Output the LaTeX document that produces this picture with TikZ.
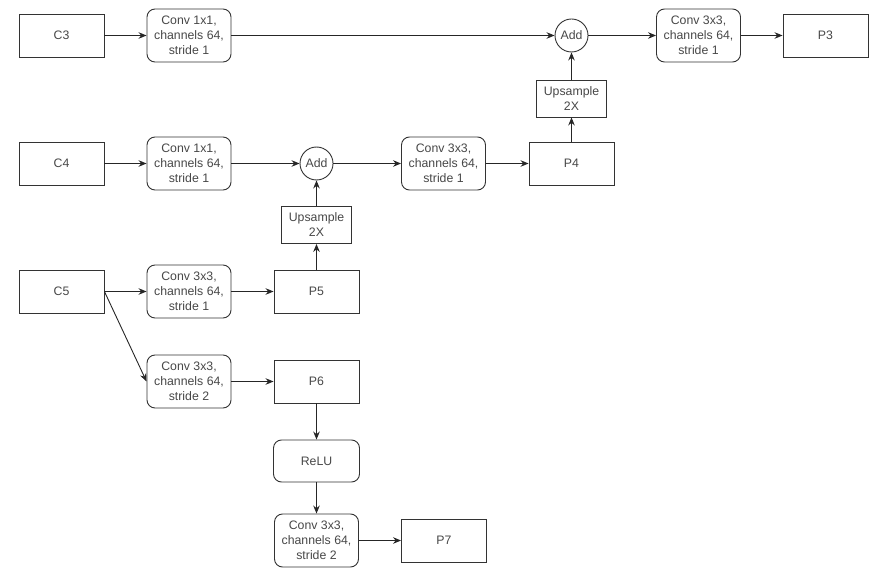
\documentclass[tikz,border=0pt]{standalone}
\usepackage{fontspec}
\setmainfont{Liberation Sans}
\usetikzlibrary{arrows.meta}
\begin{document}
\begin{tikzpicture}[x=1pt,y=-1pt,
  every node/.style={font=\fontsize{12.3}{15}\selectfont, text=black!72},
  sq/.style={draw=black!80, line width=0.9pt, minimum width=85pt, minimum height=43pt, inner sep=0pt, align=center},
  rb/.style={draw=black!80, line width=0.9pt, rounded corners=8pt, minimum width=84pt, minimum height=53pt, inner sep=0pt, align=center},
  addc/.style={draw=black!80, line width=0.9pt, circle, minimum size=33pt, inner sep=0pt},
  upb/.style={draw=black!80, line width=0.9pt, minimum width=70pt, minimum height=37pt, inner sep=0pt, align=center},
  arr/.style={draw=black!85, line width=0.9pt, -{Stealth[length=8pt,width=6.5pt]}}
]
\useasboundingbox (0,0) rectangle (896,577);
% row 1
\node[sq] (c3) at (61.5,35.5) {C3};
\node[rb] (k3) at (189,35.5) {Conv 1x1,\\channels 64,\\stride 1};
\node[addc] (a3) at (571.5,35.5) {Add};
\node[rb] (o3) at (698.5,35.5) {Conv 3x3,\\channels 64,\\stride 1};
\node[sq] (p3) at (825.5,35.5) {P3};
\node[upb] (u4) at (571.5,98.5) {Upsample\\2X};
% row 2
\node[sq] (c4) at (61.5,163.5) {C4};
\node[rb] (k4) at (189,163.5) {Conv 1x1,\\channels 64,\\stride 1};
\node[addc] (a4) at (316.5,163.5) {Add};
\node[rb] (o4) at (443.5,163.5) {Conv 3x3,\\channels 64,\\stride 1};
\node[sq] (p4) at (571.5,163.5) {P4};
\node[upb] (u5) at (316.5,225) {Upsample\\2X};
% row 3
\node[sq] (c5) at (61.5,291.5) {C5};
\node[rb] (k5) at (189,291.5) {Conv 3x3,\\channels 64,\\stride 1};
\node[sq] (p5) at (316.5,291.5) {P5};
% row 4
\node[rb] (k6) at (189,381.5) {Conv 3x3,\\channels 64,\\stride 2};
\node[sq] (p6) at (316.5,381.5) {P6};
\node[rb, minimum width=86pt, minimum height=42pt] (relu) at (316.5,461) {ReLU};
\node[rb] (k7) at (316.5,540.5) {Conv 3x3,\\channels 64,\\stride 2};
\node[sq] (p7) at (444,540.5) {P7};
% connectors
\draw[arr] (c3) -- (k3);
\draw[arr] (k3) -- (a3);
\draw[arr] (a3) -- (o3);
\draw[arr] (o3) -- (p3);
\draw[arr] (u4) -- (a3);
\draw[arr] (p4) -- (u4);
\draw[arr] (c4) -- (k4);
\draw[arr] (k4) -- (a4);
\draw[arr] (a4) -- (o4);
\draw[arr] (o4) -- (p4);
\draw[arr] (u5) -- (a4);
\draw[arr] (p5) -- (u5);
\draw[arr] (c5) -- (k5);
\draw[arr] (k5) -- (p5);
\draw[arr] (c5.east) -- (k6.west);
\draw[arr] (k6) -- (p6);
\draw[arr] (p6) -- (relu);
\draw[arr] (relu) -- (k7);
\draw[arr] (k7) -- (p7);
\end{tikzpicture}
\end{document}
